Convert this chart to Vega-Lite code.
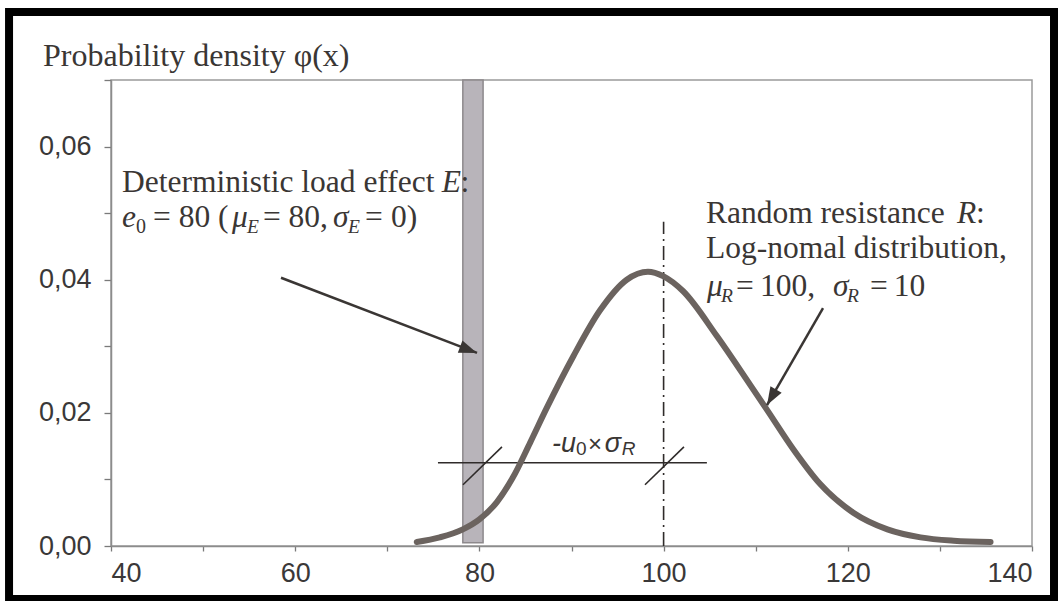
{
  "$schema": "https://vega.github.io/schema/vega-lite/v6.json",
  "width": 921,
  "height": 466,
  "autosize": {"type": "none"},
  "padding": {"left": 111, "top": 80, "right": 26, "bottom": 55},
  "background": "white",
  "title": {"text": "Probability density φ(x)", "anchor": "start", "frame": "group", "dx": -68, "offset": -90, "baseline": "alphabetic", "font": "Liberation Serif", "fontSize": 32, "fontWeight": "normal", "color": "#3a3634"},
  "config": {
    "view": {"stroke": "#9a9a9a", "strokeWidth": 1.5},
    "axis": {"grid": false, "title": null, "domainColor": "#8c8c8c", "domainWidth": 1.5, "tickColor": "#7a7a7a", "tickWidth": 1.3, "labelFont": "Liberation Sans", "labelFontSize": 27, "labelColor": "#3a3838", "labelOverlap": false}
  },
  "datasets": {
    "curve": [
      {"x": 73.2, "y": 0.0006}, {"x": 75.7, "y": 0.0013}, {"x": 78.2, "y": 0.0025}, {"x": 80.0, "y": 0.0040},
      {"x": 81.9, "y": 0.0066}, {"x": 83.6, "y": 0.0102}, {"x": 85.5, "y": 0.0155}, {"x": 87.3, "y": 0.0207},
      {"x": 90.2, "y": 0.0285}, {"x": 93.1, "y": 0.0354}, {"x": 96.0, "y": 0.0400}, {"x": 98.3, "y": 0.0412},
      {"x": 100.0, "y": 0.0405}, {"x": 102.1, "y": 0.0383}, {"x": 105.8, "y": 0.0315}, {"x": 109.4, "y": 0.0242},
      {"x": 111.3, "y": 0.0203}, {"x": 114.1, "y": 0.0145}, {"x": 117.0, "y": 0.0093}, {"x": 120.6, "y": 0.0050},
      {"x": 124.3, "y": 0.0025}, {"x": 127.9, "y": 0.0013}, {"x": 131.5, "y": 0.0008}, {"x": 135.5, "y": 0.0006}
    ],
    "band": [{"x": 78.2, "x2": 80.4, "y": 0.0005, "y2": 0.07}],
    "vline": [{"x": 100, "y": 0, "y2": 0.0487}],
    "hline": [{"x": 75.5, "x2": 104.7, "y": 0.0125}],
    "slash": [
      {"x": 78.22, "y": 0.0092, "x2": 82.45, "y2": 0.0149},
      {"x": 97.98, "y": 0.0092, "x2": 102.21, "y2": 0.0149}
    ],
    "arrows": [
      {"x": 58.46, "y": 0.0403, "x2": 79.74, "y2": 0.0290},
      {"x": 117.31, "y": 0.03575, "x2": 111.23, "y2": 0.02118}
    ],
    "head1": [{"x": 78.82, "y": 0.02947}],
    "head2": [{"x": 111.72, "y": 0.02235}],
    "frame": [{"x": 28.93, "x2": 142.39, "y": 0.08022, "y2": -0.00796}],
    "labels": [
      {"t": "Deterministic load effect", "x": 41.19, "y": 0.05318, "k": "serif"},
      {"t": "E", "x": 75.9, "y": 0.05318, "k": "serifIt"},
      {"t": ":", "x": 77.95, "y": 0.05318, "k": "serif"},
      {"t": "e", "x": 41.19, "y": 0.04792, "k": "serifIt"},
      {"t": "0", "x": 42.71, "y": 0.04702, "k": "serifSub"},
      {"t": "= 80 (", "x": 44.56, "y": 0.04792, "k": "serif"},
      {"t": "μ", "x": 53.14, "y": 0.04792, "k": "serifIt"},
      {"t": "E", "x": 54.77, "y": 0.04702, "k": "serifItSub"},
      {"t": "= 80,", "x": 56.5, "y": 0.04792, "k": "serif"},
      {"t": "σ", "x": 64.1, "y": 0.04792, "k": "serifIt"},
      {"t": "E", "x": 65.73, "y": 0.04702, "k": "serifItSub"},
      {"t": "=", "x": 67.58, "y": 0.04792, "k": "serif"},
      {"t": "0)", "x": 70.4, "y": 0.04792, "k": "serif"},
      {"t": "Random resistance", "x": 104.6, "y": 0.04852, "k": "serif"},
      {"t": "R", "x": 131.86, "y": 0.04852, "k": "serifIt"},
      {"t": ":", "x": 133.92, "y": 0.04852, "k": "serif"},
      {"t": "Log-nomal distribution,", "x": 104.6, "y": 0.04326, "k": "serif"},
      {"t": "μ", "x": 104.71, "y": 0.03755, "k": "serifIt"},
      {"t": "R", "x": 106.23, "y": 0.03665, "k": "serifItSub"},
      {"t": "=", "x": 107.86, "y": 0.03755, "k": "serif"},
      {"t": "100,", "x": 110.46, "y": 0.03755, "k": "serif"},
      {"t": "σ", "x": 118.4, "y": 0.03755, "k": "serifIt"},
      {"t": "R", "x": 119.91, "y": 0.03665, "k": "serifItSub"},
      {"t": "=", "x": 122.4, "y": 0.03755, "k": "serif"},
      {"t": "10", "x": 125.0, "y": 0.03755, "k": "serif"},
      {"t": "-u", "x": 87.88, "y": 0.01412, "k": "sansIt"},
      {"t": "0", "x": 90.49, "y": 0.01367, "k": "sansSub"},
      {"t": "×", "x": 91.8, "y": 0.01412, "k": "sans"},
      {"t": "σ", "x": 93.6, "y": 0.01412, "k": "sansIt"},
      {"t": "R", "x": 95.45, "y": 0.01367, "k": "sansItSub"}
    ]
  },
  "encoding": {
    "x": {"field": "x", "type": "quantitative", "scale": {"domain": [40, 140], "nice": false, "zero": false},
      "axis": {"values": [40, 50, 60, 70, 80, 90, 100, 110, 120, 130, 140], "labelExpr": "datum.value % 20 == 0 ? datum.label : ''", "tickSize": 5, "labelPadding": 9}},
    "y": {"field": "y", "type": "quantitative", "scale": {"domain": [0, 0.07], "nice": false, "zero": true},
      "axis": {"values": [0, 0.01, 0.02, 0.03, 0.04, 0.05, 0.06, 0.07], "labelExpr": "round(datum.value * 100) % 2 == 0 && datum.value < 0.065 ? replace(format(datum.value, '.2f'), '.', ',') : ''", "tickSize": 7, "labelPadding": 13}}
  },
  "layer": [
    {"data": {"name": "frame"}, "mark": {"type": "rect", "fillOpacity": 0, "stroke": "black", "strokeWidth": 8}, "encoding": {"x2": {"field": "x2"}, "y2": {"field": "y2"}}},
    {"data": {"name": "band"}, "mark": {"type": "rect", "fill": "#b8b4ba", "stroke": "#8d898c", "strokeWidth": 1.5}, "encoding": {"x2": {"field": "x2"}, "y2": {"field": "y2"}}},
    {"data": {"name": "vline"}, "mark": {"type": "rule", "color": "#2f2b2a", "strokeWidth": 1.6, "strokeDash": [14, 5, 2, 5]}, "encoding": {"y2": {"field": "y2"}}},
    {"data": {"name": "hline"}, "mark": {"type": "rule", "color": "#2f2b2a", "strokeWidth": 1.6}, "encoding": {"x2": {"field": "x2"}}},
    {"data": {"name": "slash"}, "mark": {"type": "rule", "color": "#2f2b2a", "strokeWidth": 1.6}, "encoding": {"x2": {"field": "x2"}, "y2": {"field": "y2"}}},
    {"data": {"name": "curve"}, "mark": {"type": "line", "interpolate": "monotone", "color": "#6b635f", "strokeWidth": 6, "strokeCap": "round"}},
    {"data": {"name": "arrows"}, "mark": {"type": "rule", "color": "#3a3634", "strokeWidth": 2.5}, "encoding": {"x2": {"field": "x2"}, "y2": {"field": "y2"}}},
    {"data": {"name": "head1"}, "mark": {"type": "point", "shape": "M0,-1L0.72,1L-0.72,1Z", "size": 324, "filled": true, "opacity": 1, "color": "#3a3634", "angle": 110.9}},
    {"data": {"name": "head2"}, "mark": {"type": "point", "shape": "M0,-1L0.72,1L-0.72,1Z", "size": 324, "filled": true, "opacity": 1, "color": "#3a3634", "angle": 210}},
    {"data": {"name": "labels"}, "transform": [{"filter": "datum.k == 'serif'"}], "mark": {"type": "text", "align": "left", "baseline": "alphabetic", "font": "Liberation Serif", "fontSize": 31.5, "color": "#3a3634"}, "encoding": {"text": {"field": "t"}}},
    {"data": {"name": "labels"}, "transform": [{"filter": "datum.k == 'serifIt'"}], "mark": {"type": "text", "align": "left", "baseline": "alphabetic", "font": "Liberation Serif", "fontStyle": "italic", "fontSize": 31.5, "color": "#3a3634"}, "encoding": {"text": {"field": "t"}}},
    {"data": {"name": "labels"}, "transform": [{"filter": "datum.k == 'serifSub'"}], "mark": {"type": "text", "align": "left", "baseline": "alphabetic", "font": "Liberation Serif", "fontSize": 20, "color": "#3a3634"}, "encoding": {"text": {"field": "t"}}},
    {"data": {"name": "labels"}, "transform": [{"filter": "datum.k == 'serifItSub'"}], "mark": {"type": "text", "align": "left", "baseline": "alphabetic", "font": "Liberation Serif", "fontStyle": "italic", "fontSize": 19.5, "color": "#3a3634"}, "encoding": {"text": {"field": "t"}}},
    {"data": {"name": "labels"}, "transform": [{"filter": "datum.k == 'sans'"}], "mark": {"type": "text", "align": "left", "baseline": "alphabetic", "font": "Liberation Sans", "fontSize": 24, "color": "#3a3634"}, "encoding": {"text": {"field": "t"}}},
    {"data": {"name": "labels"}, "transform": [{"filter": "datum.k == 'sansIt'"}], "mark": {"type": "text", "align": "left", "baseline": "alphabetic", "font": "Liberation Sans", "fontStyle": "italic", "fontSize": 27, "color": "#3a3634"}, "encoding": {"text": {"field": "t"}}},
    {"data": {"name": "labels"}, "transform": [{"filter": "datum.k == 'sansSub'"}], "mark": {"type": "text", "align": "left", "baseline": "alphabetic", "font": "Liberation Sans", "fontSize": 19, "color": "#3a3634"}, "encoding": {"text": {"field": "t"}}},
    {"data": {"name": "labels"}, "transform": [{"filter": "datum.k == 'sansItSub'"}], "mark": {"type": "text", "align": "left", "baseline": "alphabetic", "font": "Liberation Sans", "fontStyle": "italic", "fontSize": 19, "color": "#3a3634"}, "encoding": {"text": {"field": "t"}}}
  ]
}
